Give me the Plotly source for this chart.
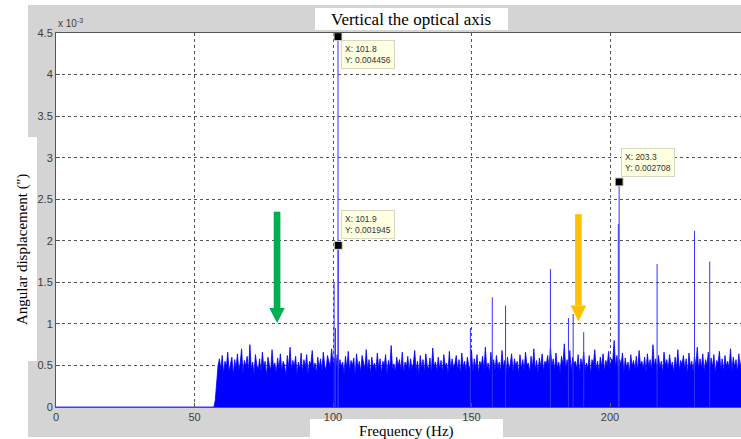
import plotly.graph_objects as go

# ---------------- data (amplitudes in units of 1e-3 arcsec) ----------------
onset_freq = [0.0, 57.0, 57.5, 58.0, 58.5]
onset_amp = [0.0, 0.0, 0.08, 0.30, 0.50]

noise_start = 59.0
noise_step = 0.5
noise_amp = [
    0.58,0.45,0.62,0.40,0.55,0.48,0.66,0.42,0.52,0.60,0.38,0.57,0.47,0.64,0.44,0.53,0.70,0.41,0.56,0.49,
    0.61,0.43,0.75,0.46,0.54,0.39,0.63,0.50,0.45,0.58,0.42,0.66,0.48,0.55,0.37,0.60,0.51,0.44,0.69,0.47,
    0.53,0.41,0.59,0.46,0.64,0.43,0.55,0.50,0.38,0.62,0.47,0.72,0.44,0.56,0.49,0.61,0.40,0.54,0.46,0.65,
    0.42,0.57,0.48,0.63,0.39,0.55,0.51,0.68,0.45,0.53,0.41,0.60,0.47,0.58,0.43,0.66,0.50,0.44,0.62,0.55,
    0.48,0.70,0.52,0.58,0.45,0.63,0.41,0.57,0.49,0.54,0.40,0.61,0.46,0.67,0.43,0.56,0.50,0.59,0.38,0.64,
    0.47,0.55,0.42,0.62,0.51,0.45,0.69,0.44,0.57,0.40,0.60,0.48,0.53,0.43,0.65,0.46,0.58,0.41,0.55,0.50,
    0.63,0.39,0.56,0.47,0.74,0.45,0.52,0.42,0.60,0.49,0.57,0.44,0.66,0.41,0.54,0.48,0.61,0.43,0.58,0.46,
    0.52,0.68,0.44,0.55,0.40,0.62,0.47,0.57,0.42,0.64,0.50,0.45,0.59,0.41,0.71,0.48,0.54,0.43,0.60,0.46,
    0.56,0.42,0.63,0.49,0.53,0.40,0.67,0.45,0.58,0.47,0.52,0.62,0.44,0.57,0.41,0.65,0.48,0.55,0.43,0.60,
    0.50,0.45,0.69,0.42,0.58,0.47,0.63,0.40,0.55,0.49,0.61,0.44,0.72,0.46,0.53,0.41,0.66,0.50,0.57,0.44,
    0.62,0.47,0.54,0.43,0.68,0.48,0.56,0.41,0.60,0.45,0.52,0.64,0.42,0.58,0.49,0.55,0.40,0.63,0.46,0.57,
    0.44,0.66,0.50,0.53,0.42,0.61,0.47,0.70,0.45,0.56,0.41,0.59,0.48,0.64,0.43,0.55,0.51,0.62,0.46,0.73,
    0.49,0.58,0.44,0.65,0.47,0.54,0.42,0.61,0.50,0.76,0.45,0.57,0.48,0.68,0.43,0.60,0.52,0.55,0.46,0.63,
    0.41,0.58,0.49,0.66,0.44,0.53,0.47,0.62,0.40,0.57,0.51,0.69,0.45,0.55,0.42,0.60,0.48,0.64,0.43,0.56,
    0.50,0.67,0.46,0.58,0.55,0.80,0.48,0.62,0.44,0.57,0.51,0.65,0.42,0.59,0.47,0.54,0.41,0.63,0.49,0.56,
    0.45,0.61,0.43,0.68,0.50,0.55,0.46,0.60,0.42,0.64,0.48,0.57,0.44,0.75,0.49,0.58,0.43,0.62,0.47,0.55,
    0.41,0.66,0.50,0.57,0.45,0.63,0.48,0.54,0.42,0.60,0.47,0.69,0.44,0.56,0.51,0.62,0.46,0.58,0.40,0.65,
    0.48,0.55,0.43,0.61,0.49,0.72,0.45,0.58,0.47,0.64,0.42,0.57,0.50,0.66,0.44,0.59,0.48,0.63,0.41,0.56,
    0.52,0.67,0.45,0.58,0.43,0.62,0.49,0.55,0.46,0.70,0.44,0.60,0.48,0.57,0.42,0.64,0.47,0.59,0.50,0.55,
]

spike_freq = [100.4, 100.9, 101.8, 101.9, 149.6, 157.5, 162.3, 178.5, 185.0, 186.7,
              190.5, 203.0, 203.3, 217.0, 230.5, 236.0]
spike_amp = [1.50, 0.95, 4.456, 1.945, 0.95, 1.32, 1.22, 1.66, 1.07, 1.12,
             0.90, 2.20, 2.708, 1.72, 2.12, 1.75]

tip_freq = [101.8, 101.9, 203.3]
tip_amp = [4.456, 1.945, 2.708]

x_ticks = [0, 50, 100, 150, 200, 250]
y_ticks = [0, 0.5, 1, 1.5, 2, 2.5, 3, 3.5, 4, 4.5]
y_ticktext = ["0", "0.5", "1", "1.5", "2", "2.5", "3", "3.5", "4", "4.5"]

title_text = "Vertical the optical axis"
x_title = "Frequency (Hz)"
y_title = "Angular displacement ('')"

# ---------------- build ----------------
BLUE = "#0000ff"
noise_freq = [noise_start + noise_step * i for i in range(len(noise_amp))]
floor_x = onset_freq + noise_freq
floor_y = onset_amp + noise_amp

fig = go.Figure()
fig.add_trace(go.Scatter(x=floor_x, y=floor_y, mode="lines",
                         line=dict(color=BLUE, width=0.8),
                         fill="tozeroy", fillcolor=BLUE, hoverinfo="skip"))

sx, sy = [], []
for f, a in zip(spike_freq, spike_amp):
    sx += [f, f, None]
    sy += [0, a, None]
fig.add_trace(go.Scatter(x=sx, y=sy, mode="lines",
                         line=dict(color="#3333ff", width=1), hoverinfo="skip"))

fig.add_trace(go.Scatter(x=tip_freq, y=tip_amp, mode="markers",
                         marker=dict(symbol="square", size=8, color="black",
                                     line=dict(color="#e0e0c0", width=1)),
                         hoverinfo="skip"))

# data tips
tip_pos = [("top", 3, -3), ("bottom", 3, 6), ("bottom", 2, 5)]
for f, a, (ya, xs, ys) in zip(tip_freq, tip_amp, tip_pos):
    fig.add_annotation(x=f, y=a, xref="x", yref="y", showarrow=False,
                       text=f"X: {f}<br>Y: {a*1e-3:.6f}",
                       xanchor="left", yanchor=ya, xshift=xs, yshift=ys,
                       align="left", bgcolor="#ffffe1", bordercolor="#d8d8c0",
                       borderwidth=1, borderpad=3,
                       font=dict(family="Liberation Sans, Arial", size=8.5, color="#333333"))

# arrows (green and orange)
def arrow(fx, top, head_start, tip, color, half_shaft=1.2, half_head=2.8):
    fig.add_shape(type="rect", xref="x", yref="y", x0=fx - half_shaft, x1=fx + half_shaft,
                  y0=head_start, y1=top, fillcolor=color, line=dict(width=0), layer="above")
    fig.add_shape(type="path", xref="x", yref="y",
                  path=f"M {fx-half_head},{head_start} L {fx+half_head},{head_start} L {fx},{tip} Z",
                  fillcolor=color, line=dict(width=0), layer="above")

arrow(79.8, 2.35, 1.19, 1.01, "#00b050")
arrow(188.6, 2.32, 1.22, 1.03, "#ffc000")

# background panels (pixel geometry -> paper coords)
W, H = 741, 439
ML, MR, MT, MB = 56, 0, 33, 32
PW, PH = W - ML - MR, H - MT - MB

def px(x):
    return (x - ML) / PW

def py(y):
    return 1 - (y - MT) / PH

def rect(x0, y0, x1, y1, color):
    fig.add_shape(type="rect", xref="paper", yref="paper",
                  x0=px(x0), x1=px(x1), y0=py(y1), y1=py(y0),
                  fillcolor=color, line=dict(width=0), layer="below")

GRAY = "#d4d4d4"
rect(28, 5, 741, 437, GRAY)
rect(0, 137, 37, 361, "white")
rect(315, 8, 508, 30, "white")
rect(310, 419, 503, 439, "white")
rect(56, 33, 741, 407, "white")

fig.add_annotation(xref="paper", yref="paper", x=px(411), y=py(19), text=title_text,
                   xanchor="center", yanchor="middle",
                   showarrow=False, font=dict(family="Liberation Serif", size=17, color="black"))
fig.add_annotation(xref="paper", yref="paper", x=px(406), y=py(431), text=x_title,
                   xanchor="center", yanchor="middle",
                   showarrow=False, font=dict(family="Liberation Serif", size=15, color="black"))
fig.add_annotation(xref="paper", yref="paper", x=px(22), y=py(250), text=y_title,
                   xanchor="center", yanchor="middle", textangle=-90, showarrow=False,
                   font=dict(family="Liberation Serif", size=15, color="black"))
fig.add_annotation(xref="paper", yref="paper", x=px(56), y=py(31), text="x 10<sup>-3</sup>",
                   xanchor="left", yanchor="bottom", showarrow=False,
                   font=dict(family="Liberation Sans", size=10, color="#3c3c3c"))

axis_common = dict(showline=True, linecolor="#555555", linewidth=1, mirror=True,
                   ticks="inside", ticklen=4, tickcolor="#555555",
                   showgrid=True, gridcolor="#555555", griddash="dot", gridwidth=1,
                   zeroline=False,
                   tickfont=dict(family="Liberation Sans, Arial", size=11, color="#3c3c3c"))

fig.update_xaxes(range=[0, PW / (554 / 200)], tickvals=x_ticks, **axis_common)
fig.update_yaxes(range=[0, 4.5], tickvals=y_ticks, ticktext=y_ticktext, **axis_common)

fig.update_layout(width=W, height=H, margin=dict(l=ML, r=MR, t=MT, b=MB),
                  paper_bgcolor="white", plot_bgcolor="rgba(0,0,0,0)",
                  showlegend=False)

fig.write_html("out.html")
